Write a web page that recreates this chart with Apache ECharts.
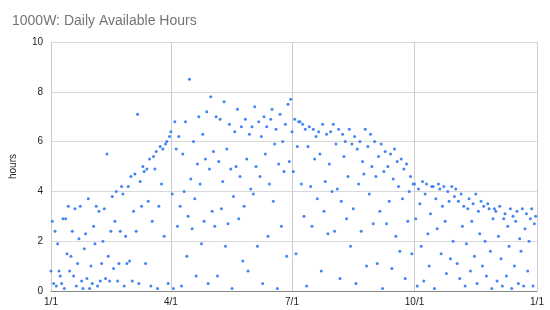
<!DOCTYPE html>
<html><head><meta charset="utf-8">
<script src="https://cdn.jsdelivr.net/npm/echarts@6/dist/echarts.min.js"></script>
<style>html,body{margin:0;padding:0;background:#fff}#c{width:550px;height:310px}</style>
</head><body><div id="c"></div>
<script>
const title = '1000W: Daily Available Hours';
const yTicks = [0, 2, 4, 6, 8, 10];
const xTickLabels = ['1/1', '4/1', '7/1', '10/1', '1/1'];
const monthLengths = [31, 28, 31, 30, 31, 30, 31, 31, 30, 31, 30, 31];
const jan = [0.8,2.8,0.3,2.4,0.2,1.9,0.8,0.6,0.3,2.9,0.1,2.9,1.5,3.4,0.8,1.4,2.4,0.6,3.3,0.2,1.1,2.1,3.4,0.4,0.1,1.7,2.3,0.5,3.7,0.1,1.0];
const feb = [0.3,2.6,1.9,3.4,0.2,3.2,0.4,1.1,2.0,3.3,0.5,5.5,1.4,0.4,2.4,3.8,0.9,2.8,4.0,0.4,1.1,2.4,4.2,3.9,0.2,2.2,1.1,4.2];
const mar = [1.2,4.6,0.4,3.2,4.7,2.4,7.1,0.3,4.4,3.4,5.0,4.8,1.1,4.9,3.6,5.3,0.2,2.8,5.4,4.9,5.6,0.1,3.4,5.8,4.3,5.7,2.2,5.9,6.0,0.3,6.2];
const apr = [6.4,3.9,0.1,6.8,5.7,2.6,6.2,3.4,0.2,5.5,4.0,6.8,1.4,3.0,8.5,4.5,2.5,6.0,3.7,0.6,5.1,7.0,4.3,1.9,6.3,2.8,5.3,7.2,0.3,4.9];
const may = [7.8,3.2,5.6,2.6,7.0,0.6,5.2,6.9,3.3,4.4,7.6,1.8,5.7,2.7,6.7,4.9,0.1,3.8,6.4,5.0,7.3,2.9,4.6,6.6,1.2,3.4,6.9,5.3,0.8,6.3,4.1];
const jun = [6.6,3.9,7.4,5.0,1.8,6.8,4.6,6.2,0.3,7.0,5.5,6.6,2.2,4.3,6.9,7.3,3.6,5.9,6.5,0.1,5.1,7.1,2.6,6.0,4.8,6.7,1.4,7.5,5.2,7.7];
const jul = [6.4,4.8,6.9,1.5,5.8,6.8,6.8,4.3,6.7,3.0,6.5,0.2,5.8,6.6,4.2,2.6,6.5,5.3,6.2,3.7,6.4,5.5,0.8,6.7,3.2,4.4,6.3,2.3,5.1,6.4,4.0];
const aug = [6.7,2.4,5.9,4.1,6.5,0.5,3.6,6.3,5.4,6.0,2.9,4.6,6.5,1.8,5.9,3.3,6.2,0.3,5.7,4.3,6.0,2.4,5.2,4.7,6.5,1.0,5.8,3.9,6.3,5.0,2.7];
const sep = [6.0,4.6,1.1,5.4,3.2,5.9,0.1,4.8,5.6,2.7,5.0,3.6,5.5,0.9,4.5,5.7,2.2,5.2,4.2,1.6,5.3,3.7,4.9,0.5,5.1,2.8,4.0,4.6,1.5,4.3];
const oct = [4.3,2.9,0.2,4.1,3.5,1.8,4.4,0.4,3.9,4.3,2.3,1.0,3.1,4.2,4.2,0.1,3.7,2.5,4.3,4.1,1.5,3.4,4.2,2.8,0.7,4.0,3.6,1.3,4.2,2.0,3.8];
const nov = [4.1,1.1,3.6,0.5,3.9,2.6,3.4,0.2,1.9,3.3,3.7,0.8,2.8,3.5,1.4,3.9,0.3,3.2,2.3,3.6,1.0,3.4,2.0,0.6,3.5,3.3,1.6,0.1,2.9,3.3];
const dec = [3.2,0.4,2.2,3.4,1.3,0.2,2.9,3.1,0.6,2.6,1.8,3.3,0.1,3.0,1.0,2.8,3.2,0.3,2.1,1.6,3.3,0.2,2.5,3.1,0.8,2.0,2.9,3.3,0.2,2.7,3.0];

const months = [jan, feb, mar, apr, may, jun, jul, aug, sep, oct, nov, dec];
const categories = [];
const points = [];
const tickIdx = {};
let idx = 0;
months.forEach((m, mi) => {
  for (let d = 0; d < monthLengths[mi]; d++) {
    categories.push((mi + 1) + '/' + (d + 1));
    if (d < m.length) points.push([idx, m[d]]);
    idx++;
  }
});
categories.push('1/1');
[0, 90, 181, 273, 365].forEach((i, k) => { tickIdx[i] = xTickLabels[k]; });
const isTick = (i) => tickIdx.hasOwnProperty(i);
const font = 'Arial, "Liberation Sans", sans-serif';

const chart = echarts.init(document.getElementById('c'));
chart.setOption({
  animation: false,
  title: {
    text: title, left: 7, top: 9,
    textStyle: { fontFamily: font, fontSize: 14, fontWeight: 'normal', color: '#757575' }
  },
  grid: { left: 48, right: 13, top: 42, bottom: 19, containLabel: false },
  xAxis: {
    type: 'category', data: categories, boundaryGap: false,
    axisLine: { show: true, lineStyle: { color: '#888', width: 1 } },
    axisTick: { show: false },
    axisLabel: {
      interval: (i) => isTick(i),
      formatter: (v, i) => tickIdx[i] || '',
      color: '#222', fontSize: 10, fontFamily: font, margin: 6
    },
    splitLine: { show: true, interval: (i) => isTick(i), lineStyle: { color: '#cccccc', width: 1 } }
  },
  yAxis: {
    type: 'value', min: yTicks[0], max: yTicks[yTicks.length - 1], interval: 2,
    name: 'hours', nameLocation: 'middle', nameGap: 33, nameRotate: 90,
    nameTextStyle: { color: '#222', fontSize: 10, fontFamily: font },
    axisLine: { show: false }, axisTick: { show: false },
    axisLabel: { color: '#222', fontSize: 10, fontFamily: font, margin: 8 },
    splitLine: { lineStyle: { color: '#d9d9d9', width: 1 } }
  },
  series: [{
    type: 'scatter', data: points, symbolSize: 3,
    itemStyle: { color: '#4285F4', opacity: 1 }
  }]
});
</script></body></html>
